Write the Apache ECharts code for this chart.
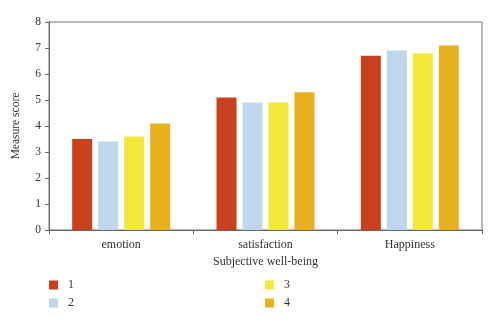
<!DOCTYPE html>
<html><head><meta charset="utf-8">
<script src="https://cdn.jsdelivr.net/npm/echarts@6/dist/echarts.min.js"></script>
<style>html,body{margin:0;padding:0;background:#fff}#c{width:500px;height:321px}</style>
</head><body><div id="c"></div>
<script>
const categories = ['emotion', 'satisfaction', 'Happiness'];
const seriesNames = ['1', '2', '3', '4'];
const s1 = [3.5, 5.1, 6.7];
const s2 = [3.4, 4.9, 6.9];
const s3 = [3.6, 4.9, 6.8];
const s4 = [4.1, 5.3, 7.1];
const yTicks = [0, 8, 1];
const colors = ['#C8401E', '#BDD7EE', '#F3E83A', '#E8B01E'];
const font = 'Liberation Serif';
const chart = echarts.init(document.getElementById('c'));
const data = [s1, s2, s3, s4];
const legText = {fontFamily: font, fontSize: 12, color: '#333', padding: [0, 0, 0, 5]};
chart.setOption({
  animation: false,
  textStyle: {fontFamily: font},
  grid: {left: 49, right: 18, top: 22, bottom: 91, show: true, borderColor: '#777', borderWidth: 1, containLabel: false},
  legend: [
    {data: ['1', '2'], orient: 'vertical', left: 44, top: 274, itemWidth: 9, itemHeight: 9, itemGap: 6,
     textStyle: legText, icon: 'rect'},
    {data: ['3', '4'], orient: 'vertical', left: 260, top: 274, itemWidth: 9, itemHeight: 9, itemGap: 6,
     textStyle: legText, icon: 'rect'}
  ],
  xAxis: {
    type: 'category', data: categories,
    name: 'Subjective well-being', nameLocation: 'middle', nameGap: 23,
    nameTextStyle: {fontFamily: font, fontSize: 12, color: '#333'},
    axisLine: {lineStyle: {color: '#666'}},
    axisTick: {show: true, length: 4, lineStyle: {color: '#666'}},
    axisLabel: {fontFamily: font, fontSize: 12, color: '#333', margin: 9}
  },
  yAxis: {
    type: 'value', min: yTicks[0], max: yTicks[1], interval: yTicks[2],
    name: 'Measure score', nameLocation: 'middle', nameGap: 27, nameRotate: 90,
    nameTextStyle: {fontFamily: font, fontSize: 11.5, color: '#333'},
    axisLine: {show: true, lineStyle: {color: '#666'}},
    axisTick: {show: true, length: 4, lineStyle: {color: '#666'}},
    axisLabel: {fontFamily: font, fontSize: 11.5, color: '#333', margin: 8},
    splitLine: {show: false}
  },
  series: seriesNames.map((n, i) => ({
    name: n, type: 'bar', data: data[i], barWidth: 20, barGap: '30%',
    itemStyle: {color: colors[i]}
  }))
});
</script></body></html>
